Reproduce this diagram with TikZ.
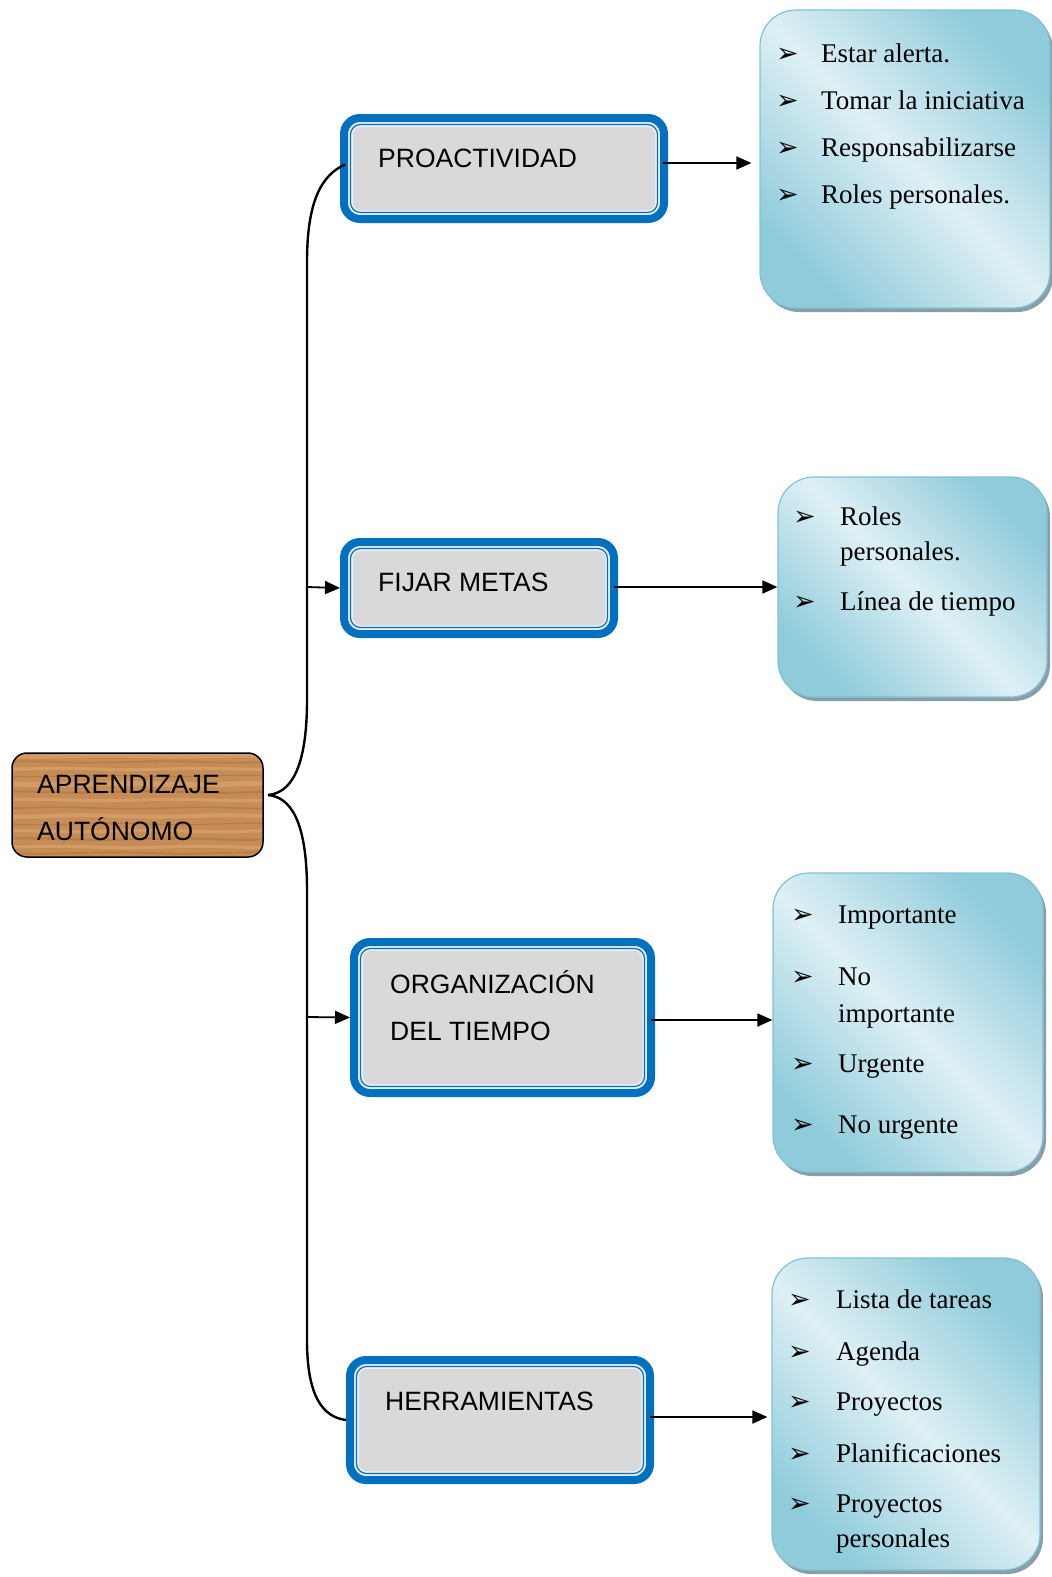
\documentclass[tikz,border=0pt]{standalone}
\usepackage{fontspec}
\setmainfont{Liberation Serif}
\newfontfamily\arialf{Liberation Sans}
\newfontfamily\dejavuf{DejaVu Sans}
\usetikzlibrary{arrows.meta,shadows}
\definecolor{boxblue}{RGB}{0,112,192}
\definecolor{boxgray}{RGB}{217,217,217}
\definecolor{palegap}{RGB}{236,238,244}
\definecolor{bdark}{RGB}{143,203,219}
\definecolor{blight}{RGB}{222,240,245}
\definecolor{bedge}{RGB}{128,194,212}
\definecolor{shadowc}{RGB}{138,158,168}
\definecolor{woodbase}{RGB}{198,140,86}
\definecolor{woodlight}{RGB}{224,176,122}
\definecolor{wooddark}{RGB}{165,106,58}
\newcommand\myitem[5]{\node[bul,anchor=base west] (#1u) at (#2,#4) {➢}; \node[itm,anchor=base west] (#1t) at (#3,#4) {#5};}
\newcommand\mycont[4]{\node[itm,anchor=base west] (#1) at (#2,#3) {#4};}
\tikzset{
  bluebox/.style={draw=boxblue, line width=8pt, fill=boxgray, rounded corners=16pt, inner sep=0pt, outer sep=4pt},
  innerpale/.style={draw=palegap, line width=4.5pt, rounded corners=10pt},
  innerblue/.style={draw=boxblue, line width=1.2pt, rounded corners=10pt},
  bubble/.style={draw=bedge, line width=1.2pt, rounded corners=36pt, inner sep=0pt,
    top color=bdark, bottom color=bdark, middle color=blight, shading angle=-45,
    drop shadow={shadow xshift=3pt, shadow yshift=-4pt, fill=shadowc, opacity=1}},
  lbl/.style={font=\arialf\fontsize{26.5}{30}\selectfont, inner sep=0pt, text=black},
  itm/.style={font=\fontsize{27}{30}\selectfont, inner sep=0pt, text=black},
  bul/.style={font=\dejavuf\fontsize{27}{30}\selectfont, inner sep=0pt, text=black},
  arr/.style={line width=1.8pt, -{Triangle[length=15pt,width=13pt]}},
  brace/.style={line width=2.4pt},
}
\begin{document}
\begin{tikzpicture}[x=1pt,y=-1pt]
\useasboundingbox[fill=white] (0,0) rectangle (1052,1577);

% root
\node[draw=black, line width=1.5pt, fill=woodbase, rounded corners=15pt, minimum width=251pt, minimum height=104pt, inner sep=0pt,
  path picture={
    \foreach \yy/\cc/\ww in {-49/woodlight/4, -43/wooddark/1.5, -36/woodlight/3, -29/wooddark/1, -21/woodlight/5, -13/wooddark/2, -5/woodlight/3, 3/wooddark/1.5, 11/woodlight/4, 19/wooddark/1, 26/woodlight/3, 34/wooddark/2, 42/woodlight/3, 48/wooddark/1.5}
      {\draw[\cc, line width=\ww pt, opacity=.45] plot[domain=-130:130, samples=30, smooth] (\x, {\yy + 0.7*sin(\x*2.5+\yy*37)});}
  }] (root) at (137.5,805) {};
\node[lbl, anchor=base west] (rootA) at (37,793) {APRENDIZAJE};
\node[lbl, anchor=base west] (rootB) at (37,840) {AUTÓNOMO};

% blue boxes
\node[bluebox, minimum width=320pt, minimum height=101pt] (pro) at (504,168.5) {};
\node[bluebox, minimum width=270pt, minimum height=92pt] (fij) at (479,588) {};
\node[bluebox, minimum width=297pt, minimum height=151pt] (org) at (502.5,1017.5) {};
\node[bluebox, minimum width=300pt, minimum height=120pt] (her) at (500,1420) {};
\foreach \n in {pro,fij,org,her}{
  \draw[innerpale] ([shift={(10.5,10.5)}]\n.north west) rectangle ([shift={(-10.5,-10.5)}]\n.south east);
  \draw[innerblue] ([shift={(10.5,10.5)}]\n.north west) rectangle ([shift={(-10.5,-10.5)}]\n.south east);
}
\node[lbl, anchor=base west] (proT) at (378,167) {PROACTIVIDAD};
\node[lbl, anchor=base west] (fijT) at (378,591) {FIJAR METAS};
\node[lbl, anchor=base west] (orgA) at (390,993) {ORGANIZACIÓN};
\node[lbl, anchor=base west] (orgB) at (390,1040) {DEL TIEMPO};
\node[lbl, anchor=base west] (herT) at (385,1410) {HERRAMIENTAS};

% bubbles
\node[bubble, minimum width=290pt, minimum height=298pt] (b1) at (905,159) {};
\node[bubble, minimum width=269pt, minimum height=220pt] (b2) at (912.5,587) {};
\node[bubble, minimum width=270pt, minimum height=299pt] (b3) at (908,1022.5) {};
\node[bubble, minimum width=268pt, minimum height=312pt] (b4) at (906,1414) {};

\myitem{ba}{776}{821}{62}{Estar alerta.}
\myitem{bb}{776}{821}{109}{Tomar la iniciativa}
\myitem{bc}{776}{821}{156}{Responsabilizarse}
\myitem{bd}{776}{821}{203}{Roles personales.}

\myitem{ca}{793}{840}{525}{Roles}
\mycont{cb}{840}{560}{personales.}
\myitem{cc}{793}{840}{610}{Línea de tiempo}

\myitem{da}{791}{838}{923}{Importante}
\myitem{db}{791}{838}{985}{No}
\mycont{dc}{838}{1022}{importante}
\myitem{dd}{791}{838}{1072}{Urgente}
\myitem{de}{791}{838}{1133}{No urgente}

\myitem{ea}{788}{836}{1308}{Lista de tareas}
\myitem{eb}{788}{836}{1360}{Agenda}
\myitem{ec}{788}{836}{1410}{Proyectos}
\myitem{ed}{788}{836}{1462}{Planificaciones}
\myitem{ee}{788}{836}{1512}{Proyectos}
\mycont{ef}{836}{1547}{personales}

% brace / spine
\coordinate (tip) at (268,795);
\coordinate (sU) at (307,700);
\coordinate (sT) at (307,262);
\coordinate (sL) at (307,890);
\coordinate (sB) at (307,1340);
\coordinate (sF) at (307,587);
\coordinate (sO) at (307,1017);
\draw[brace] (tip) .. controls (290,793) and (307,770) .. (sU) -- (sT) .. controls (307,200) and (322,175) .. ([shift={(5,-4)}]pro.west);
\draw[brace] (tip) .. controls (290,797) and (307,820) .. (sL) -- (sB) .. controls (307,1395) and (322,1417) .. (her.west);
\draw[arr] (sF) -- (fij.west);
\draw[arr] (sO) -- (org.west);

% box -> bubble arrows
\coordinate (y1) at (0,163);
\coordinate (y2) at (0,587);
\coordinate (y3) at (0,1020);
\coordinate (y4) at (0,1417);
\draw[arr, shorten >=8pt] ([xshift=-5pt]pro.east |- y1) -- (b1.west |- y1);
\draw[arr] ([xshift=-4pt]fij.east |- y2) -- (b2.west |- y2);
\draw[arr] ([xshift=-4pt]org.east |- y3) -- (b3.west |- y3);
\draw[arr, shorten >=4pt] ([xshift=-4pt]her.east |- y4) -- (b4.west |- y4);
\end{tikzpicture}
\end{document}
